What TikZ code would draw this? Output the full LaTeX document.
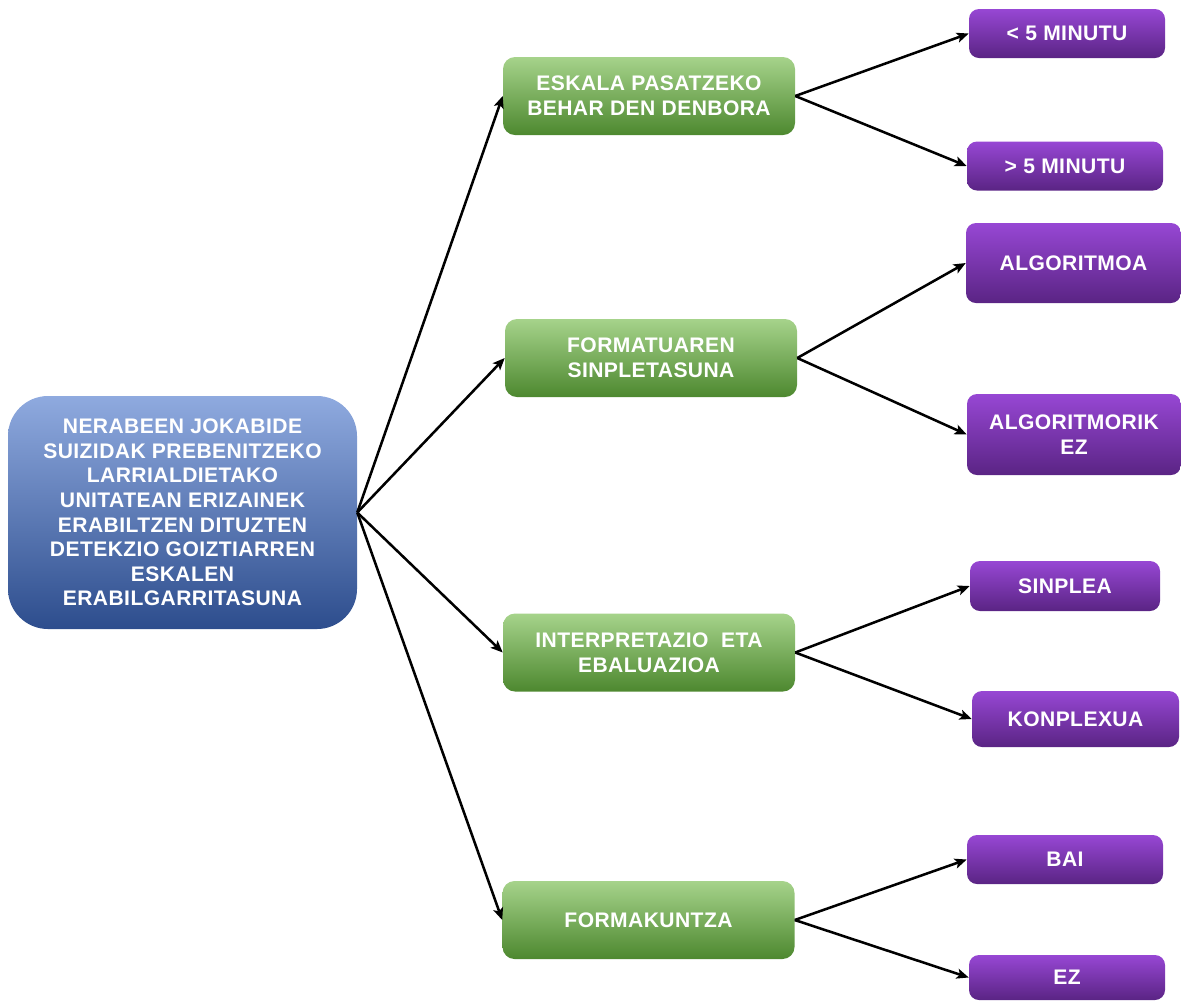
\documentclass[tikz,border=0pt]{standalone}
\usepackage{fontspec}
\setmainfont{Liberation Sans}[LetterSpace=2]
\usetikzlibrary{arrows.meta}
\usetikzlibrary{positioning}

\definecolor{bluetop}{HTML}{8FAADF}
\definecolor{bluemid}{HTML}{4A77CA}
\definecolor{bluebot}{HTML}{2D4D8D}
\definecolor{greentop}{HTML}{A6D38B}
\definecolor{greenmid}{HTML}{72B244}
\definecolor{greenbot}{HTML}{4D882F}
\definecolor{purptop}{HTML}{9747D4}
\definecolor{purpmid}{HTML}{7A37AE}
\definecolor{purpbot}{HTML}{5A2484}

\tikzset{
  boxtext/.style={text=white, align=center, inner sep=0pt,
    font=\fontsize{15.8}{18.4}\selectfont\bfseries},
  rootbox/.style={boxtext, rounded corners=30pt,
    top color=bluetop, middle color=bluemid, bottom color=bluebot,
    minimum width=261.75pt, minimum height=174.75pt},
  greenbox/.style={boxtext, rounded corners=9pt,
    top color=greentop, middle color=greenmid, bottom color=greenbot,
    minimum width=219pt, minimum height=58.5pt},
  purplebox/.style={boxtext, rounded corners=7.5pt,
    top color=purptop, middle color=purpmid, bottom color=purpbot,
    minimum width=147pt, minimum height=36.75pt},
  link/.style={-{Stealth[length=9pt, width=7.5pt, inset=2pt]}, line width=1.9pt}
}

\begin{document}
\begin{tikzpicture}[x=0.75pt, y=-0.75pt]
    \useasboundingbox (0,0) rectangle (1181,1001);

    \node [rootbox] (root) at (182.5,512.5) {NERABEEN JOKABIDE\\SUIZIDAK PREBENITZEKO\\LARRIALDIETAKO\\UNITATEAN ERIZAINEK\\ERABILTZEN DITUZTEN\\DETEKZIO GOIZTIARREN\\ESKALEN\\ERABILGARRITASUNA};

    \node [greenbox] (den) at (649,96) {ESKALA PASATZEKO\\BEHAR DEN DENBORA};
    \node [greenbox] (form) at (651,358) {FORMATUAREN\\SINPLETASUNA};
    \node [greenbox] (int) at (649,652.5) {INTERPRETAZIO\ \ ETA\\EBALUAZIOA};
    \node [greenbox] (fk) at (648.5,920) {FORMAKUNTZA};

    \node [purplebox] (den1) at (1067,33.5) {< 5 MINUTU};
    \node [purplebox] (den2) at (1065,166) {> 5 MINUTU};
    \node [purplebox, minimum width=161.25pt, minimum height=60pt] (form1) at (1073.5,263) {ALGORITMOA};
    \node [purplebox, minimum width=160.5pt, minimum height=60.75pt] (form2) at (1074,434.5) {ALGORITMORIK\\EZ};
    \node [purplebox, minimum width=142.5pt, minimum height=37.5pt] (int1) at (1065,586) {SINPLEA};
    \node [purplebox, minimum width=155.25pt, minimum height=42pt] (int2) at (1075.5,719) {KONPLEXUA};
    \node [purplebox] (fk1) at (1065,859.5) {BAI};
    \node [purplebox, minimum height=33.75pt] (fk2) at (1067,977.5) {EZ};

    \foreach \t in {den,form,int,fk}
      \draw [link] (root.east) -- (\t.west);
    \foreach \s/\t in {den/den1,den/den2,form/form1,form/form2,int/int1,int/int2,fk/fk1,fk/fk2}
      \draw [link] (\s.east) -- (\t.west);
\end{tikzpicture}
\end{document}
